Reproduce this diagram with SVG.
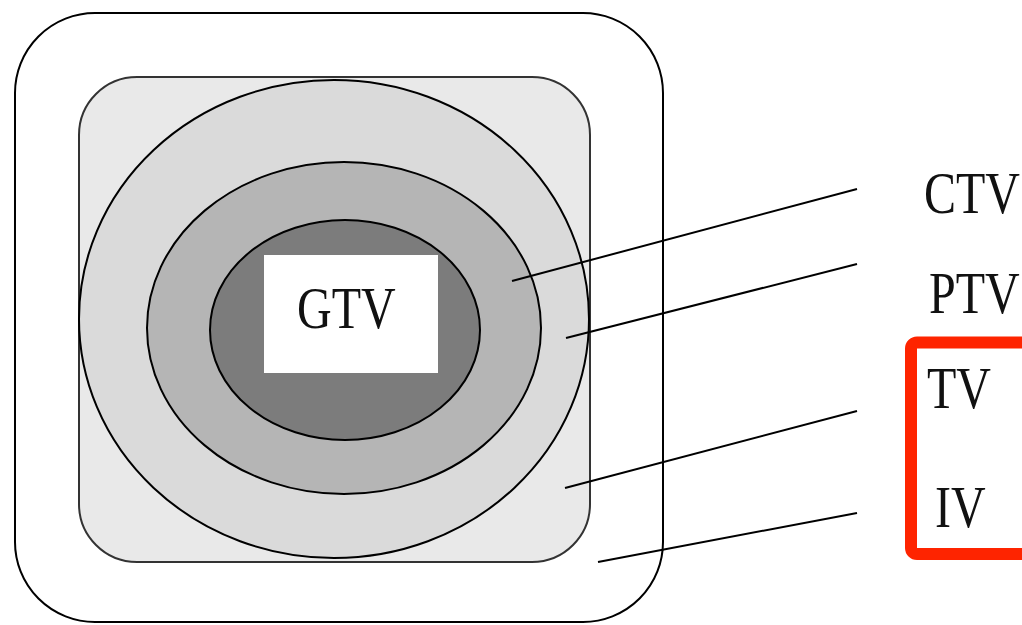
<svg xmlns="http://www.w3.org/2000/svg" width="1022" height="625" viewBox="0 0 1022 625">
  <style>
    .lbl { font-family: "Liberation Serif", "Times New Roman", serif; font-size: 48px; fill: #111; }
    .edge { stroke: #000; stroke-width: 2; fill: none; }
    .ring { stroke: #000; stroke-width: 2; }
  </style>
  <rect width="1022" height="625" fill="#ffffff"/>
  <g id="IV">
    <rect x="15" y="13" width="648" height="609" rx="80" ry="80" fill="#ffffff" stroke="#000" stroke-width="2"/>
  </g>
  <g id="TV">
    <rect x="79" y="77" width="511" height="485" rx="58" ry="58" fill="#e9e9e9" stroke="#333" stroke-width="2"/>
  </g>
  <g id="PTV">
    <ellipse class="ring" cx="334" cy="319" rx="255" ry="239" fill="#dadada"/>
  </g>
  <g id="CTV">
    <ellipse class="ring" cx="344" cy="328" rx="197" ry="166" fill="#b5b5b5"/>
  </g>
  <g id="GTV">
    <ellipse class="ring" cx="345" cy="330" rx="135" ry="110" fill="#7c7c7c"/>
    <rect x="264" y="255" width="174" height="118" fill="#ffffff"/>
    <text class="lbl" transform="translate(297,328) scale(1,1.25)">GTV</text>
  </g>
  <g id="connectors">
    <line class="edge" x1="512" y1="281" x2="857" y2="189"/>
    <line class="edge" x1="566" y1="338" x2="857" y2="264"/>
    <line class="edge" x1="565" y1="488" x2="857" y2="411"/>
    <line class="edge" x1="598" y1="562" x2="857" y2="513"/>
  </g>
  <g id="labels">
    <text class="lbl" transform="translate(924,213) scale(1,1.25)">CTV</text>
    <text class="lbl" transform="translate(929,313) scale(1,1.25)">PTV</text>
    <text class="lbl" transform="translate(927,408) scale(1,1.25)">TV</text>
    <text class="lbl" transform="translate(935,527) scale(1,1.25)">IV</text>
  </g>
  <g id="highlight">
    <rect x="911" y="342.5" width="140" height="211.5" rx="6" ry="6" fill="none" stroke="#fe2400" stroke-width="12"/>
  </g>
</svg>
